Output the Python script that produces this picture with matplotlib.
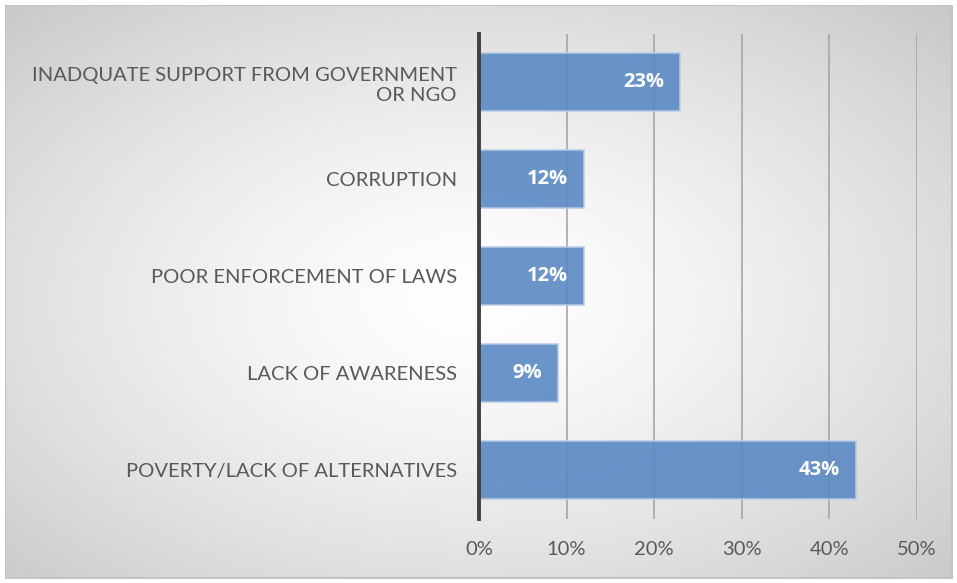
import numpy as np
import matplotlib.pyplot as plt
from matplotlib.patches import Rectangle

categories = [
    "INADQUATE SUPPORT FROM GOVERNMENT\nOR NGO",
    "CORRUPTION",
    "POOR ENFORCEMENT OF LAWS",
    "LACK OF AWARENESS",
    "POVERTY/LACK OF ALTERNATIVES",
]
values = [23, 12, 12, 9, 43]
xticks = [0, 10, 20, 30, 40, 50]

W, H = 957, 583
fig = plt.figure(figsize=(W / 100, H / 100), dpi=100)

# radial gradient background for the chart area
bg = fig.add_axes([0, 0, 1, 1])
yy, xx = np.mgrid[0:H, 0:W]
cx, cy = 470, 300
r = np.sqrt(((xx - cx) / W) ** 2 + ((yy - cy) / H) ** 2)
r = np.clip(r / 0.72, 0, 1)
g = 1.0 - 0.22 * r ** 1.4
img = np.dstack([g, g, g])
bg.imshow(img, extent=[0, W, H, 0], aspect="auto")
bg.add_patch(Rectangle((5, 5), W - 10, H - 10, fill=False, ec="#c4c4c4", lw=1.5))
# white outer margin
for rect in [(0, 0, W, 5), (0, H - 4, W, 4), (0, 0, 5, H), (W - 4, 0, 4, H)]:
    bg.add_patch(Rectangle(rect[:2], rect[2], rect[3], color="white", lw=0))
bg.set_xlim(0, W)
bg.set_ylim(H, 0)
bg.axis("off")

ax = fig.add_axes([479 / W, 1 - 518.5 / H, (917 - 479) / W, (518.5 - 33.5) / H])
ax.patch.set_alpha(0)
y = np.arange(len(categories))
ax.barh(y, values, height=0.6, color="#5b8ac4", alpha=0.9,
        edgecolor="#b8cbe6", linewidth=1.2, zorder=3)
for yi, v in zip(y, values):
    ax.text(v - 1.8, yi, f"{v}%", ha="right", va="center", color="white",
            fontsize=14.5, fontweight="bold", family="Open Sans", zorder=4)

ax.set_xlim(0, 50)
ax.set_ylim(len(categories) - 0.5, -0.5)
ax.set_xticks(xticks)
ax.set_xticklabels([f"{t}%" for t in xticks])
ax.set_yticks(y)
ax.set_yticklabels(categories, linespacing=1.25)
ax.tick_params(axis="both", length=0, labelsize=14.5, colors="#595959", labelfontfamily="Lato")
ax.tick_params(axis="x", pad=16)
ax.tick_params(axis="y", pad=16)
ax.xaxis.grid(True, color="#a6a6a6", lw=1.2, zorder=1)
for s in ["top", "right", "bottom"]:
    ax.spines[s].set_visible(False)
ax.spines["left"].set_color("#404040")
ax.spines["left"].set_linewidth(2.8)
ax.spines["left"].set_zorder(5)

fig.savefig("out.png", dpi=100)
